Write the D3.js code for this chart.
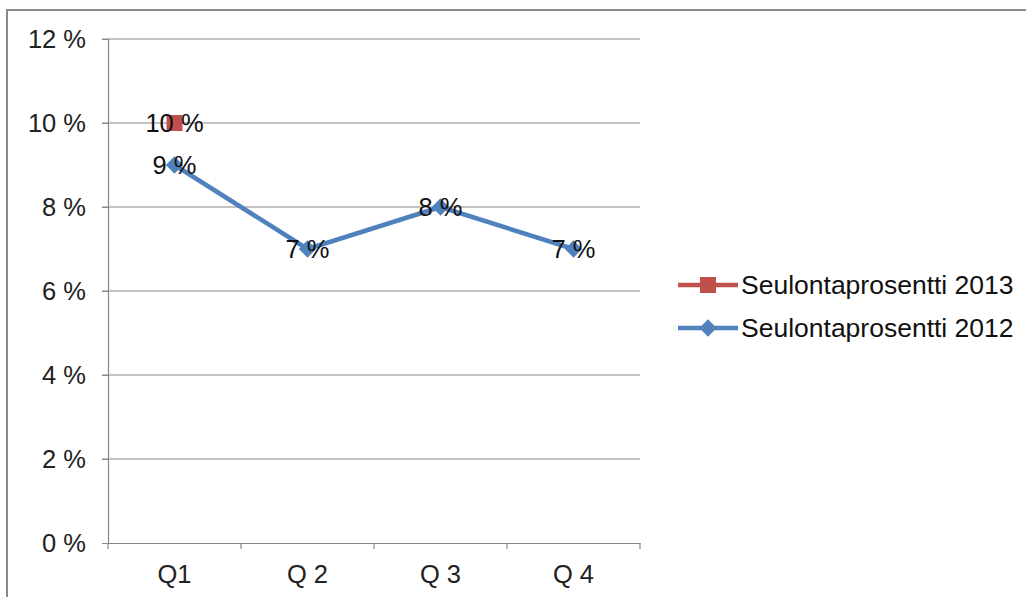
<!DOCTYPE html>
<html><head><meta charset="utf-8">
<script src="https://cdn.jsdelivr.net/npm/d3@7"></script>
<style>body{margin:0;background:#fff;}svg{display:block;font-family:"Liberation Sans",Arial,sans-serif;}</style>
</head><body>
<script>
const categories = ["Q1", "Q 2", "Q 3", "Q 4"];
const values2012 = [9, 7, 8, 7];
const values2013 = [10, null, null, null];
const yTicks = [0, 2, 4, 6, 8, 10, 12];
const seriesNames = ["Seulontaprosentti 2013", "Seulontaprosentti 2012"];
const colors = ["#C0504D", "#4F81BD"];

const W = 1026, H = 597;
const FS = 25.5;
const svg = d3.select("body").append("svg").attr("width", W).attr("height", H);
svg.append("rect").attr("x", 7).attr("y", 10).attr("width", 1030).attr("height", 600)
  .attr("fill", "#fff").attr("stroke", "#8a8a8a").attr("stroke-width", 2);

const plot = {left: 108, right: 640, top: 39, bottom: 543};
const x = d3.scaleBand().domain(categories).range([plot.left, plot.right]).paddingInner(0).paddingOuter(0);
const y = d3.scaleLinear().domain([0, 12]).range([plot.bottom, plot.top]);

// gridlines
svg.append("g").selectAll("line").data(yTicks.filter(d => d > 0)).join("line")
  .attr("x1", plot.left - 6).attr("x2", plot.right)
  .attr("y1", d => y(d)).attr("y2", d => y(d))
  .attr("stroke", "#868686").attr("stroke-width", 1.2);

// y axis
const yAxis = svg.append("g").attr("transform", `translate(${plot.left},0)`)
  .call(d3.axisLeft(y).tickValues(yTicks).tickSize(6).tickPadding(16).tickFormat(d => d + " %"));
yAxis.select(".domain").attr("stroke", "#868686").attr("stroke-width", 1.2);
yAxis.selectAll(".tick line").attr("stroke", "#868686");
yAxis.selectAll("text").attr("font-size", FS).attr("fill", "#222").attr("font-family", "Liberation Sans, Arial, sans-serif");

// x axis
const xAxis = svg.append("g").attr("transform", `translate(0,${plot.bottom})`)
  .call(d3.axisBottom(x).tickSize(0).tickPadding(22));
xAxis.select(".domain").attr("stroke", "#868686").attr("stroke-width", 1.2);
xAxis.selectAll("text").attr("font-size", FS).attr("fill", "#222").attr("font-family", "Liberation Sans, Arial, sans-serif");
// category boundary ticks
const bounds = categories.map(c => x(c)).concat([x(categories[categories.length - 1]) + x.bandwidth()]);
svg.append("g").selectAll("line").data(bounds).join("line")
  .attr("x1", d => d).attr("x2", d => d).attr("y1", plot.bottom).attr("y2", plot.bottom + 6)
  .attr("stroke", "#868686").attr("stroke-width", 1.2);

const cx = c => x(c) + x.bandwidth() / 2;

// 2012 line
const pts2012 = categories.map((c, i) => ({c, v: values2012[i]}));
svg.append("path").datum(pts2012)
  .attr("d", d3.line().x(d => cx(d.c)).y(d => y(d.v)))
  .attr("fill", "none").attr("stroke", colors[1]).attr("stroke-width", 4.5).attr("stroke-linejoin", "round");
const diamond = d3.symbol().type(d3.symbolSquare).size(150);
svg.append("g").selectAll("path").data(pts2012).join("path")
  .attr("d", diamond)
  .attr("transform", d => `translate(${cx(d.c)},${y(d.v)}) rotate(45)`)
  .attr("fill", colors[1]);

// 2013 points
const pts2013 = categories.map((c, i) => ({c, v: values2013[i]})).filter(d => d.v != null);
svg.append("g").selectAll("rect").data(pts2013).join("rect")
  .attr("x", d => cx(d.c) - 8).attr("y", d => y(d.v) - 8)
  .attr("width", 16).attr("height", 16).attr("fill", colors[0]);

// data labels
const labels = pts2013.concat(pts2012);
svg.append("g").selectAll("text").data(labels).join("text")
  .attr("x", d => cx(d.c)).attr("y", d => y(d.v) + 9)
  .attr("text-anchor", "middle").attr("font-size", FS).attr("fill", "#111")
  .text(d => d.v + " %");

// legend
const leg = svg.append("g");
seriesNames.forEach((name, i) => {
  const ly = 285 + i * 43;
  leg.append("line").attr("x1", 678).attr("x2", 738).attr("y1", ly).attr("y2", ly)
    .attr("stroke", colors[i]).attr("stroke-width", 4.5);
  if (i === 0) {
    leg.append("rect").attr("x", 700).attr("y", ly - 8).attr("width", 16).attr("height", 16).attr("fill", colors[i]);
  } else {
    leg.append("path").attr("d", diamond).attr("transform", `translate(708,${ly}) rotate(45)`).attr("fill", colors[i]);
  }
  leg.append("text").attr("x", 741).attr("y", ly + 9).attr("font-size", 26.5).attr("fill", "#111").text(name);
});
</script>
</body></html>
